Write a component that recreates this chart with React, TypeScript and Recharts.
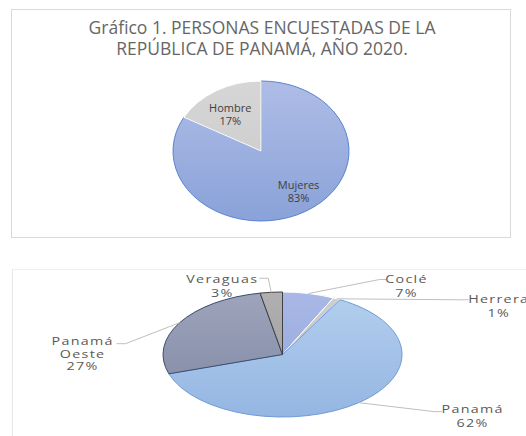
import React from 'react'
import { PieChart, Pie, Cell } from 'recharts'

// Gráfico 1: sexo
const genderNames = ['Mujeres', 'Hombre']
const genderValues = [83, 17]

// Gráfico 2: provincia
const regionNames = ['Coclé', 'Herrera', 'Panamá', 'Panamá Oeste', 'Veraguas']
const regionValues = [7, 1, 62, 27, 3]

const genderData = genderNames.map((name, i) => ({ name, value: genderValues[i] }))
const regionData = regionNames.map((name, i) => ({ name, value: regionValues[i] }))

const FONT = '"Open Sans", "Noto Sans", sans-serif'
const RAD = Math.PI / 180
const NO_MARGIN = { top: 0, right: 0, bottom: 0, left: 0 }

// [top, bottom, stroke]
const GENDER_COLORS: string[][] = [
  ['#aebde6', '#8aa2d9', '#5b82cf'],
  ['#d6d6d6', '#c9c9c9', '#ffffff'],
]
const REGION_COLORS: string[][] = [
  ['#a9b8e6', '#8fa3da', '#ffffff'],
  ['#cfcfcf', '#bdbdbd', '#ffffff'],
  ['#b4cfee', '#94b6e2', '#6f9bd8'],
  ['#9ea4bb', '#7e87a3', '#3d4c6e'],
  ['#b0b0b0', '#9a9a9a', '#404040'],
]

// label layout for the outside labels: offset of label centre from slice edge, and end of leader
const REGION_LABEL: Record<string, { dx: number; dy: number; lx: number; ly: number }> = {
  'Coclé': { dx: 98, dy: -8, lx: -20, ly: -6 },
  Herrera: { dx: 162, dy: 7, lx: -30, ly: -6 },
  'Panamá': { dx: 114, dy: 13, lx: -31, ly: -4 },
  'Panamá Oeste': { dx: -97, dy: 31, lx: 34, ly: -10 },
  Veraguas: { dx: -49, dy: -7, lx: 37, ly: -7 },
}

function ellipseShape(sx: number, colors: string[][], id: string, strokeW: number) {
  // eslint-disable-next-line @typescript-eslint/no-explicit-any
  return (props: any) => {
    const { cx, cy, outerRadius, startAngle, endAngle, index } = props
    const rx = outerRadius * sx
    const ry = outerRadius
    const p = (a: number) => [cx + rx * Math.cos(a * RAD), cy - ry * Math.sin(a * RAD)]
    const [x1, y1] = p(startAngle)
    const [x2, y2] = p(endAngle)
    const large = Math.abs(endAngle - startAngle) > 180 ? 1 : 0
    const sweep = endAngle < startAngle ? 1 : 0
    const c = colors[index % colors.length]
    const gid = `${id}-${index}`
    return (
      <g>
        <defs>
          <linearGradient id={gid} x1="0" y1={cy - ry} x2="0" y2={cy + ry} gradientUnits="userSpaceOnUse">
            <stop offset="0" stopColor={c[0]} />
            <stop offset="1" stopColor={c[1]} />
          </linearGradient>
        </defs>
        <path
          d={`M${cx},${cy} L${x1},${y1} A${rx},${ry} 0 ${large} ${sweep} ${x2},${y2} Z`}
          fill={`url(#${gid})`}
          stroke={c[2]}
          strokeWidth={strokeW}
          strokeLinejoin="round"
        />
      </g>
    )
  }
}

const TOP_SX = 88 / 70
const BOT_SX = 119.5 / 62.5

const genderShape = ellipseShape(TOP_SX, GENDER_COLORS, 'g', 1)
const regionShape = ellipseShape(BOT_SX, REGION_COLORS, 'r', 1)

const GENDER_LABEL_R = [0.66, 0.62]

// eslint-disable-next-line @typescript-eslint/no-explicit-any
function genderLabel(props: any) {
  const { cx, cy, midAngle, outerRadius, percent, name, index } = props
  const f = GENDER_LABEL_R[index]
  const x = cx + outerRadius * TOP_SX * f * Math.cos(midAngle * RAD) + (index === 0 ? 8 : -3)
  const y = cy - outerRadius * f * Math.sin(midAngle * RAD)
  return (
    <text textAnchor="middle" fill="#404040" fontSize={11} fontFamily={FONT}>
      <tspan x={x} y={y - 6.5} dominantBaseline="central">{name}</tspan>
      <tspan x={x} y={y + 6.5} dominantBaseline="central">{`${Math.round(percent * 100)}%`}</tspan>
    </text>
  )
}

// eslint-disable-next-line @typescript-eslint/no-explicit-any
function regionLabel(props: any) {
  const { cx, cy, midAngle, outerRadius, percent, name } = props
  const ax = cx + outerRadius * BOT_SX * Math.cos(midAngle * RAD)
  const ay = cy - outerRadius * Math.sin(midAngle * RAD)
  const l = REGION_LABEL[name]
  const x = ax + l.dx
  const y = ay + l.dy
  const ex = x + l.lx
  const ey = y + l.ly
  const bx = ex + (l.lx < 0 ? -7 : 9)
  const lines = [...name.split(' '), `${Math.round(percent * 100)}%`]
  const step = lines.length > 2 ? 12.5 : 14
  const top = y - ((lines.length - 1) * step) / 2
  return (
    <g>
      <polyline points={`${ax},${ay} ${bx},${ey} ${ex},${ey}`} fill="none" stroke="#bfbfbf" strokeWidth={1} />
      <text
        textAnchor="middle"
        fill="#595959"
        fontSize={11}
        fontFamily={FONT}
        letterSpacing={1}
        transform={`translate(${x} 0) scale(1.3 1) translate(${-x} 0)`}
      >
        {lines.map((t, i) => (
          <tspan key={i} x={x} y={top + i * step} dominantBaseline="central">{t}</tspan>
        ))}
      </text>
    </g>
  )
}

export default function App() {
  return (
    <div style={{ position: 'absolute', left: 0, top: 0, width: 526, height: 436, background: '#fff', overflow: 'hidden' }}>
      {/* Gráfico 1 */}
      <div style={{ position: 'absolute', left: 11, top: 9, width: 498, height: 227, border: '1px solid #d9d9d9' }} />
      <div
        style={{
          position: 'absolute', left: 0, top: 17, width: 524, textAlign: 'center',
          fontFamily: FONT, fontSize: 17.5, lineHeight: '21px', color: '#666666',
        }}
      >
        Gráfico 1. PERSONAS ENCUESTADAS DE LA
        <br />
        REPÚBLICA DE PANAMÁ, AÑO 2020.
      </div>
      <div style={{ position: 'absolute', left: 0, top: 0 }}>
        <PieChart width={526} height={250} margin={NO_MARGIN}>
          <Pie
            data={genderData}
            dataKey="value"
            nameKey="name"
            cx={261}
            cy={151}
            outerRadius={70}
            startAngle={90}
            endAngle={-270}
            shape={genderShape}
            activeShape={genderShape}
            inactiveShape={genderShape}
            label={genderLabel}
            labelLine={false}
            isAnimationActive={false}
          >
            {genderData.map((_, i) => (
              <Cell key={i} fill={GENDER_COLORS[i][1]} />
            ))}
          </Pie>
        </PieChart>
      </div>

      {/* Gráfico 2 */}
      <div style={{ position: 'absolute', left: 12, top: 269, width: 530, height: 200, borderTop: '1px solid #eeeeee', borderLeft: '1px solid #e6e6e6' }} />
      <div style={{ position: 'absolute', left: 0, top: 250 }}>
        <PieChart width={526} height={186} margin={NO_MARGIN}>
          <Pie
            data={regionData}
            dataKey="value"
            nameKey="name"
            cx={282.5}
            cy={104.5}
            outerRadius={62.5}
            startAngle={90}
            endAngle={-270}
            shape={regionShape}
            activeShape={regionShape}
            inactiveShape={regionShape}
            label={regionLabel}
            labelLine={false}
            isAnimationActive={false}
          >
            {regionData.map((_, i) => (
              <Cell key={i} fill={REGION_COLORS[i][1]} />
            ))}
          </Pie>
        </PieChart>
      </div>
    </div>
  )
}
